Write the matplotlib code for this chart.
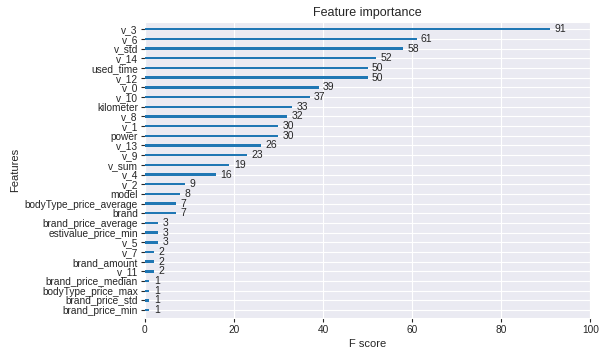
import matplotlib
matplotlib.use("Agg")
import matplotlib.pyplot as plt
import seaborn as sns

features = ["v_3", "v_6", "v_std", "v_14", "used_time", "v_12", "v_0", "v_10",
            "kilometer", "v_8", "v_1", "power", "v_13", "v_9", "v_sum", "v_4",
            "v_2", "model", "bodyType_price_average", "brand",
            "brand_price_average", "estivalue_price_min", "v_5", "v_7",
            "brand_amount", "v_11", "brand_price_median", "bodyType_price_max",
            "brand_price_std", "brand_price_min"]
scores = [91, 61, 58, 52, 50, 50, 39, 37, 33, 32, 30, 30, 26, 23, 19, 16,
          9, 8, 7, 7, 3, 3, 3, 2, 2, 2, 1, 1, 1, 1]

sns.set_style("darkgrid")
plt.rcParams["font.family"] = ["Liberation Sans", "DejaVu Sans"]

fig = plt.figure(figsize=(6.06, 3.6), dpi=100)
ax = fig.add_axes([0.239, 0.117, 0.735, 0.822])

# plot bottom-up like xgboost's plot_importance
feats = features[::-1]
vals = scores[::-1]
ylocs = list(range(len(feats)))
ax.barh(ylocs, vals, align="center", height=0.25, color="#1f77b4",
        linewidth=0, zorder=3)
for x, y in zip(vals, ylocs):
    ax.text(x + 1, y, x, va="center", fontsize=7.5, color="#262626")

ax.set_yticks(ylocs)
ax.set_yticklabels(feats)
ax.set_xlim(0, 100)
ax.set_ylim(-0.8, len(feats) - 0.25)
ax.tick_params(axis="both", labelsize=7.3, length=3, width=0.8,
               left=True, bottom=True, color="#262626", pad=2)
ax.set_title("Feature importance", fontsize=9, pad=4)
ax.set_xlabel("F score", fontsize=8, labelpad=3)
ax.set_ylabel("Features", fontsize=8, labelpad=3)

fig.savefig("out.png", dpi=100)
